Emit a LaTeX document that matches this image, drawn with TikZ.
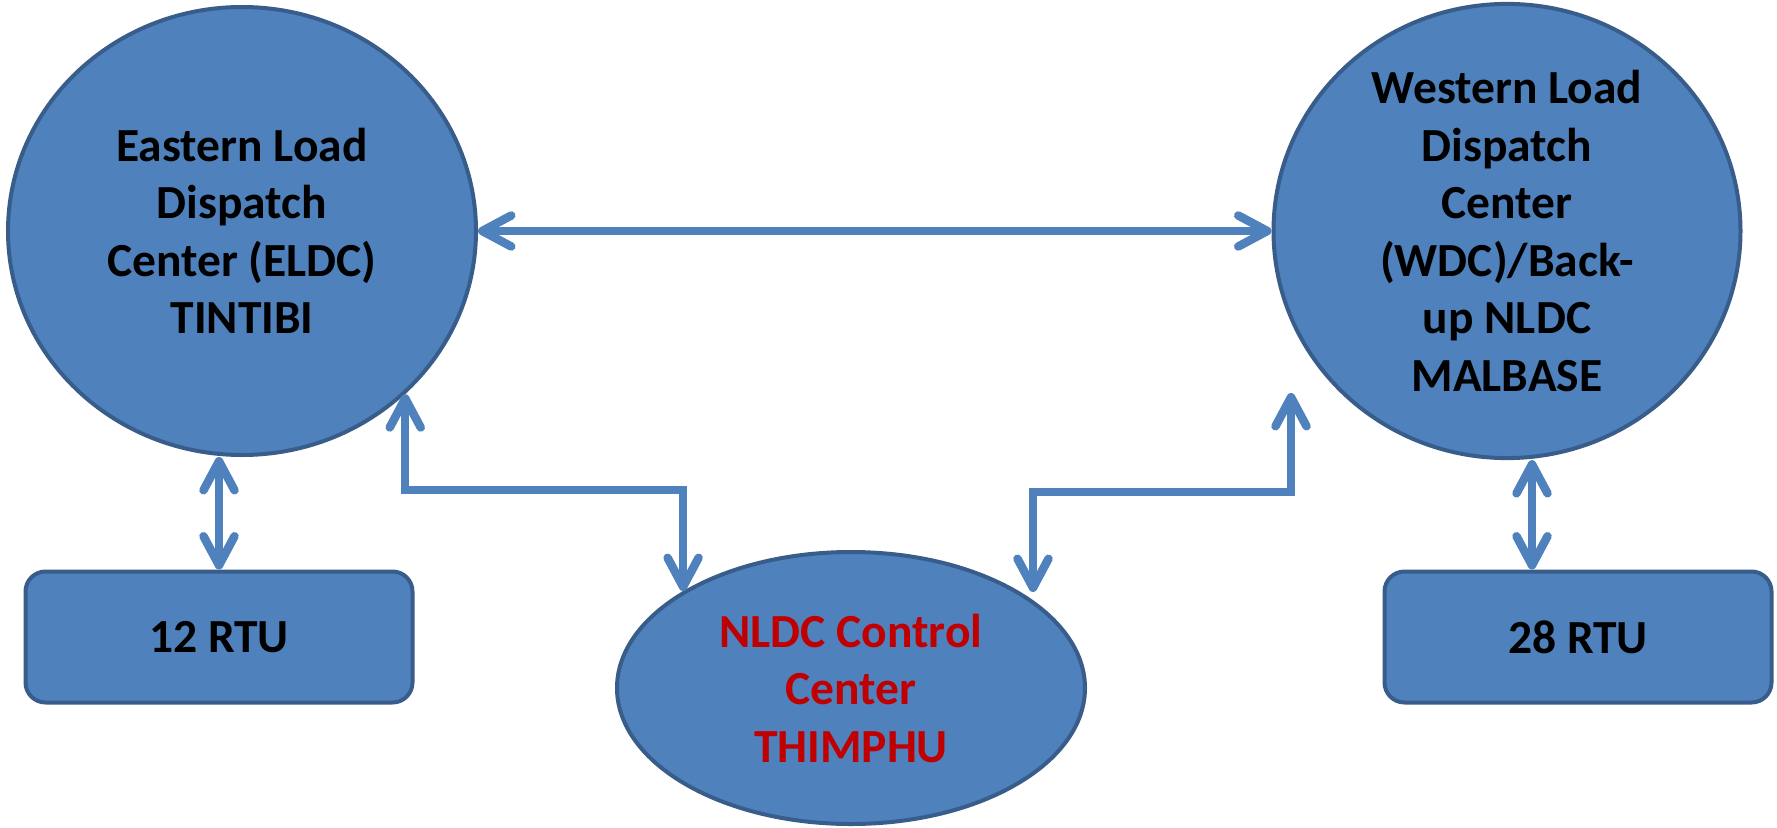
\documentclass[tikz,border=0pt]{standalone}
\usepackage{fontspec}
\setmainfont{Carlito}
\usetikzlibrary{shapes.geometric,arrows.meta}
\definecolor{boxfill}{HTML}{4F81BD}
\definecolor{boxline}{HTML}{385D8A}
\definecolor{nldcred}{HTML}{C00000}
\tikzset{
  center/.style={ellipse, draw=boxline, line width=4pt, fill=boxfill, inner sep=0pt,
    align=center, font=\bfseries\fontsize{47.5}{57.5}\selectfont},
  rtubox/.style={rectangle, rounded corners=20pt, draw=boxline, line width=4pt, fill=boxfill,
    inner sep=0pt, minimum width=387pt, minimum height=131pt,
    font=\bfseries\fontsize{47.5}{57.5}\selectfont},
  barb/.tip={Straight Barb[length=29pt,width=31pt,line cap=round,line join=round]},
  conn/.style={draw=boxfill, line width=8.5pt, line cap=round, line join=miter, barb-barb}
}
\begin{document}
\begin{tikzpicture}[x=1pt,y=-1pt]
\useasboundingbox (0,0) rectangle (1777,827);
\node[center, minimum width=468pt, minimum height=448pt] (eldc) at (242,231)
  {Eastern Load\\Dispatch\\Center (ELDC)\\TINTIBI};
\node[center, minimum width=467pt, minimum height=448pt] (wdc) at (1507,231)
  {Western Load\\Dispatch\\Center\\(WDC)/Back-\\up NLDC\\MALBASE};
\node[center, minimum width=468pt, minimum height=272pt, text=nldcred] (nldc) at (851,688)
  {NLDC Control\\Center\\THIMPHU};
\node[rtubox] (rtu12) at (219,637) {12 RTU};
\node[rtubox] (rtu28) at (1578,637) {28 RTU};
% free ends / bend levels
\coordinate (yL) at (0,490);
\coordinate (ntip) at (1033,592);
\coordinate (elbowR) at (1291,492);
\coordinate (wtip) at (1291,393);
% connectors
\draw[conn] (eldc.east) -- (wdc.west);
\draw[conn] (eldc.south -| rtu12.north) -- (rtu12.north);
\draw[conn] ([xshift=25pt]wdc.south) -- ([xshift=-46pt]rtu28.north);
\draw[conn] (eldc.-45) |- (nldc.150 |- yL) -- (nldc.150);
\draw[conn] (ntip) |- (elbowR) -- (wtip);
\end{tikzpicture}
\end{document}
